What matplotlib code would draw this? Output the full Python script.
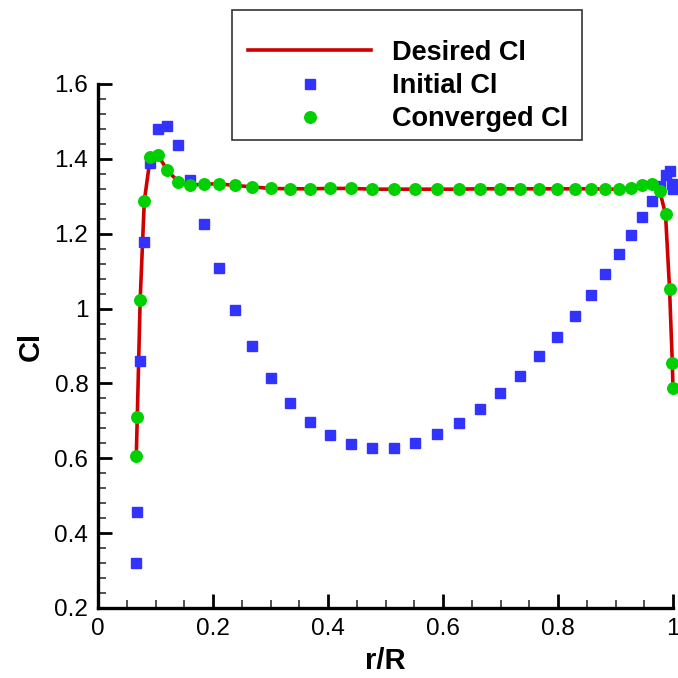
import matplotlib
matplotlib.use("Agg")
import matplotlib.pyplot as plt
from matplotlib.lines import Line2D
from matplotlib.patches import Rectangle
from matplotlib.ticker import MultipleLocator

plt.rcParams['font.family'] = ['Liberation Sans', 'DejaVu Sans']

# ---- data ----
r_R = [0.0666, 0.0683, 0.0733, 0.0805, 0.0910, 0.1049, 0.1205, 0.1397, 0.1605, 0.1846,
       0.2107, 0.2388, 0.2683, 0.3000, 0.3341, 0.3687, 0.4038, 0.4403, 0.4771, 0.5142,
       0.5519, 0.5896, 0.6275, 0.6637, 0.6994, 0.7341, 0.7672, 0.7988, 0.8287, 0.8566,
       0.8826, 0.9066, 0.9275, 0.9466, 0.9629, 0.9768, 0.9870, 0.9940, 0.9988, 1.0000]

desired_cl = [0.606, 0.710, 1.022, 1.287, 1.405, 1.409, 1.369, 1.339, 1.329, 1.333,
              1.333, 1.329, 1.325, 1.321, 1.320, 1.320, 1.321, 1.321, 1.319, 1.319,
              1.319, 1.319, 1.319, 1.320, 1.320, 1.320, 1.320, 1.320, 1.320, 1.320,
              1.319, 1.319, 1.321, 1.329, 1.334, 1.315, 1.252, 1.053, 0.854, 0.787]

converged_cl = [0.606, 0.710, 1.022, 1.287, 1.405, 1.409, 1.369, 1.339, 1.329, 1.333,
                1.333, 1.329, 1.325, 1.321, 1.320, 1.320, 1.321, 1.321, 1.319, 1.319,
                1.319, 1.319, 1.319, 1.320, 1.320, 1.320, 1.320, 1.320, 1.320, 1.320,
                1.319, 1.319, 1.321, 1.329, 1.334, 1.315, 1.252, 1.053, 0.854, 0.787]

initial_cl = [0.319, 0.456, 0.859, 1.177, 1.388, 1.479, 1.488, 1.436, 1.344, 1.225,
              1.108, 0.995, 0.899, 0.814, 0.748, 0.697, 0.662, 0.638, 0.627, 0.627,
              0.640, 0.665, 0.694, 0.732, 0.774, 0.819, 0.872, 0.923, 0.979, 1.035,
              1.092, 1.145, 1.196, 1.244, 1.287, 1.327, 1.356, 1.368, 1.332, 1.320]

labels = ['Desired Cl', 'Initial Cl', 'Converged Cl']

RED = '#D00000'
BLUE = '#3333FF'
GREEN = '#00D000'

W = H = 678
fig = plt.figure(figsize=(6.78, 6.78), dpi=100)
ax = fig.add_axes([98 / W, 1 - 608 / H, 575 / W, 524 / H])

ax.plot(r_R, desired_cl, color=RED, lw=2.6, zorder=2, clip_on=False)
ax.plot(r_R, initial_cl, ls='none', marker='s', ms=6.5, color=BLUE, mec=BLUE, zorder=3, clip_on=False)
ax.plot(r_R, converged_cl, ls='none', marker='o', ms=8.3, color=GREEN, mec=GREEN, zorder=4, clip_on=False)

ax.set_xlim(0, 1)
ax.set_ylim(0.2, 1.6)
ax.xaxis.set_major_locator(MultipleLocator(0.2))
ax.xaxis.set_minor_locator(MultipleLocator(0.05))
ax.yaxis.set_major_locator(MultipleLocator(0.2))
ax.yaxis.set_minor_locator(MultipleLocator(0.04))

def fmt(v, pos):
    s = f"{v:.1f}"
    if s.endswith('.0'):
        s = s[:-2]
    return s

ax.xaxis.set_major_formatter(plt.FuncFormatter(fmt))
ax.yaxis.set_major_formatter(plt.FuncFormatter(fmt))

for s in ['top', 'right']:
    ax.spines[s].set_visible(False)
for s in ['left', 'bottom']:
    ax.spines[s].set_linewidth(2.4)
    ax.spines[s].set_color('black')

ax.tick_params(which='major', direction='in', length=10, width=2.0, labelsize=17.5, pad=7, color='black')
ax.tick_params(which='minor', direction='in', length=6, width=1.2, color='#333333')

ax.set_xlabel('r/R', fontsize=21, fontweight='bold', labelpad=5)
ax.set_ylabel('Cl', fontsize=21, fontweight='bold', labelpad=7)

handles = [
    Line2D([], [], color=RED, lw=2.6),
    Line2D([], [], ls='none', marker='s', ms=6.5, color=BLUE),
    Line2D([], [], ls='none', marker='o', ms=8.3, color=GREEN),
]
leg = fig.legend(handles, labels, loc='center left', bbox_to_anchor=(248 / W, 1 - 86 / H),
                 frameon=False, prop={'weight': 'bold', 'size': 19.5}, handlelength=4.55,
                 handletextpad=0.76, labelspacing=0.27, borderpad=0, borderaxespad=0,
                 numpoints=1)

fig.add_artist(Rectangle((232 / W, 1 - 140 / H), 350 / W, 130 / H, transform=fig.transFigure,
                         fill=False, edgecolor='#333333', lw=1.2))

fig.savefig('out.png', dpi=100)
